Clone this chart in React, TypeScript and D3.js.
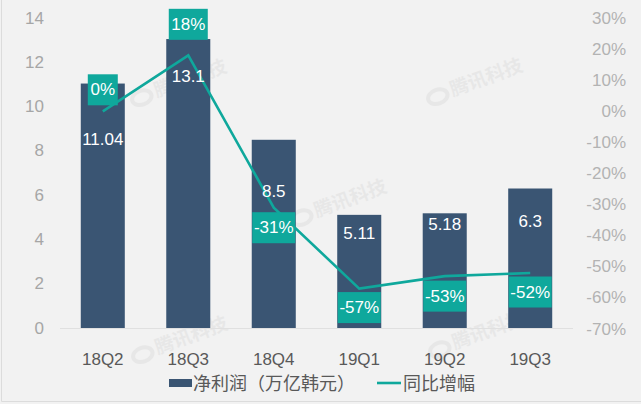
import { useEffect, useRef } from 'react';
import * as d3 from 'd3';

const quarters = ['18Q2', '18Q3', '18Q4', '19Q1', '19Q2', '19Q3'];
const netProfit = [11.04, 13.05, 8.5, 5.11, 5.18, 6.3];
const netProfitLabels = ['11.04', '13.1', '8.5', '5.11', '5.18', '6.3'];
const yoyGrowth = [0, 18, -31, -57, -53, -52];
const leftTicks = [0, 2, 4, 6, 8, 10, 12, 14];
const rightTicks = [-70, -60, -50, -40, -30, -20, -10, 0, 10, 20, 30];
const watermarks = [
  { x: 183, y: 88 },
  { x: 343, y: 208 },
  { x: 479, y: 87 },
  { x: 184, y: 345 },
  { x: 481, y: 340 },
];

const W = 641;
const H = 404;
const NAVY = '#3a5573';
const TEAL = '#0fa89c';
const FONT = '"Liberation Sans", "Noto Sans CJK SC", sans-serif';

// label placement, relative to the bar top / line point
const barLabelDy = [56, 37, 52, 19, 11, 33];
const boxDy = [-21.5, -31, 20, 19, 20, 19];
const boxW = [30, 39, 43, 43, 43, 43];

export default function App() {
  const svgRef = useRef<SVGSVGElement>(null);

  useEffect(() => {
    if (!svgRef.current) return;
    const svg = d3.select(svgRef.current);
    svg.selectAll('*').remove();

    const x = d3.scaleBand<string>().domain(quarters).range([60, 573]).paddingInner(0.485).paddingOuter(0.243);
    const y = d3.scaleLinear().domain([0, 14]).range([328, 18]);
    const y2 = d3.scaleLinear().domain([-70, 30]).range([329, 18]);
    const cx = (q: string) => (x(q) as number) + x.bandwidth() / 2;

    svg.append('rect').attr('width', W).attr('height', H).attr('fill', '#f2f2f2');
    svg.append('path').attr('d', `M1.5,0V${H - 2.5}H${W}`).attr('fill', 'none').attr('stroke', '#dcdcdc');

    const wm = svg.selectAll('g.wm').data(watermarks).join('g').attr('class', 'wm')
      .attr('transform', (d) => `translate(${d.x},${d.y}) rotate(-20)`)
      .attr('opacity', 0.07);
    wm.append('ellipse').attr('cx', -42).attr('cy', -5).attr('rx', 10).attr('ry', 7)
      .attr('fill', 'none').attr('stroke', '#666').attr('stroke-width', 4);
    wm.append('text').attr('x', -28).attr('font-size', 19).attr('font-weight', 700)
      .attr('font-family', FONT).attr('fill', '#666').text('腾讯科技');

    svg.append('line').attr('x1', 60).attr('x2', 573).attr('y1', 328.5).attr('y2', 328.5)
      .attr('stroke', '#e0e0e0');

    svg.selectAll('rect.bar').data(netProfit).join('rect').attr('class', 'bar')
      .attr('x', (_, i) => x(quarters[i]) as number)
      .attr('y', (d) => y(d))
      .attr('width', x.bandwidth())
      .attr('height', (d) => y(0) - y(d))
      .attr('fill', NAVY);

    const line = d3.line<number>().x((_, i) => cx(quarters[i])).y((d) => y2(d));
    svg.append('path').attr('d', line(yoyGrowth)).attr('fill', 'none')
      .attr('stroke', TEAL).attr('stroke-width', 2.6);

    const text = (sel: d3.Selection<any, any, any, any>) =>
      sel.attr('font-family', FONT).attr('font-size', 17).attr('dominant-baseline', 'central');

    svg.selectAll('text.left').data(leftTicks).join('text').attr('class', 'left')
      .call(text).attr('x', 44).attr('y', (d) => y(d)).attr('text-anchor', 'end')
      .attr('fill', '#a6a6a6').text((d) => d);
    svg.selectAll('text.right').data(rightTicks).join('text').attr('class', 'right')
      .call(text).attr('x', 626).attr('y', (d) => y2(d)).attr('text-anchor', 'end')
      .attr('fill', '#b3b3b3').text((d) => `${d}%`);
    svg.selectAll('text.cat').data(quarters).join('text').attr('class', 'cat')
      .call(text).attr('x', (d) => cx(d)).attr('y', 359).attr('text-anchor', 'middle')
      .attr('fill', '#595959').text((d) => d);

    svg.selectAll('text.val').data(netProfitLabels).join('text').attr('class', 'val')
      .call(text).attr('x', (_, i) => cx(quarters[i])).attr('y', (_, i) => y(netProfit[i]) + barLabelDy[i])
      .attr('text-anchor', 'middle').attr('fill', '#fff').text((d) => d);

    svg.selectAll('rect.box').data(yoyGrowth).join('rect').attr('class', 'box')
      .attr('x', (_, i) => cx(quarters[i]) - boxW[i] / 2)
      .attr('y', (d, i) => y2(d) + boxDy[i] - 15.5)
      .attr('width', (_, i) => boxW[i]).attr('height', 31).attr('fill', TEAL);
    svg.selectAll('text.pct').data(yoyGrowth).join('text').attr('class', 'pct')
      .call(text).attr('x', (_, i) => cx(quarters[i])).attr('y', (d, i) => y2(d) + boxDy[i])
      .attr('text-anchor', 'middle').attr('fill', '#fff').text((d) => `${d}%`);

    svg.append('rect').attr('x', 169).attr('y', 379).attr('width', 23).attr('height', 8).attr('fill', NAVY);
    svg.append('text').call(text).attr('font-size', 18).attr('x', 193).attr('y', 383.5).attr('fill', '#595959').text('净利润（万亿韩元）');
    svg.append('line').attr('x1', 377).attr('x2', 401).attr('y1', 383).attr('y2', 383)
      .attr('stroke', TEAL).attr('stroke-width', 2.6);
    svg.append('text').call(text).attr('font-size', 18).attr('x', 403).attr('y', 383.5).attr('fill', '#595959').text('同比增幅');
  }, []);

  return (
    <svg ref={svgRef} width={W} height={H}
      style={{ position: 'absolute', left: 0, top: 0, display: 'block' }} />
  );
}
